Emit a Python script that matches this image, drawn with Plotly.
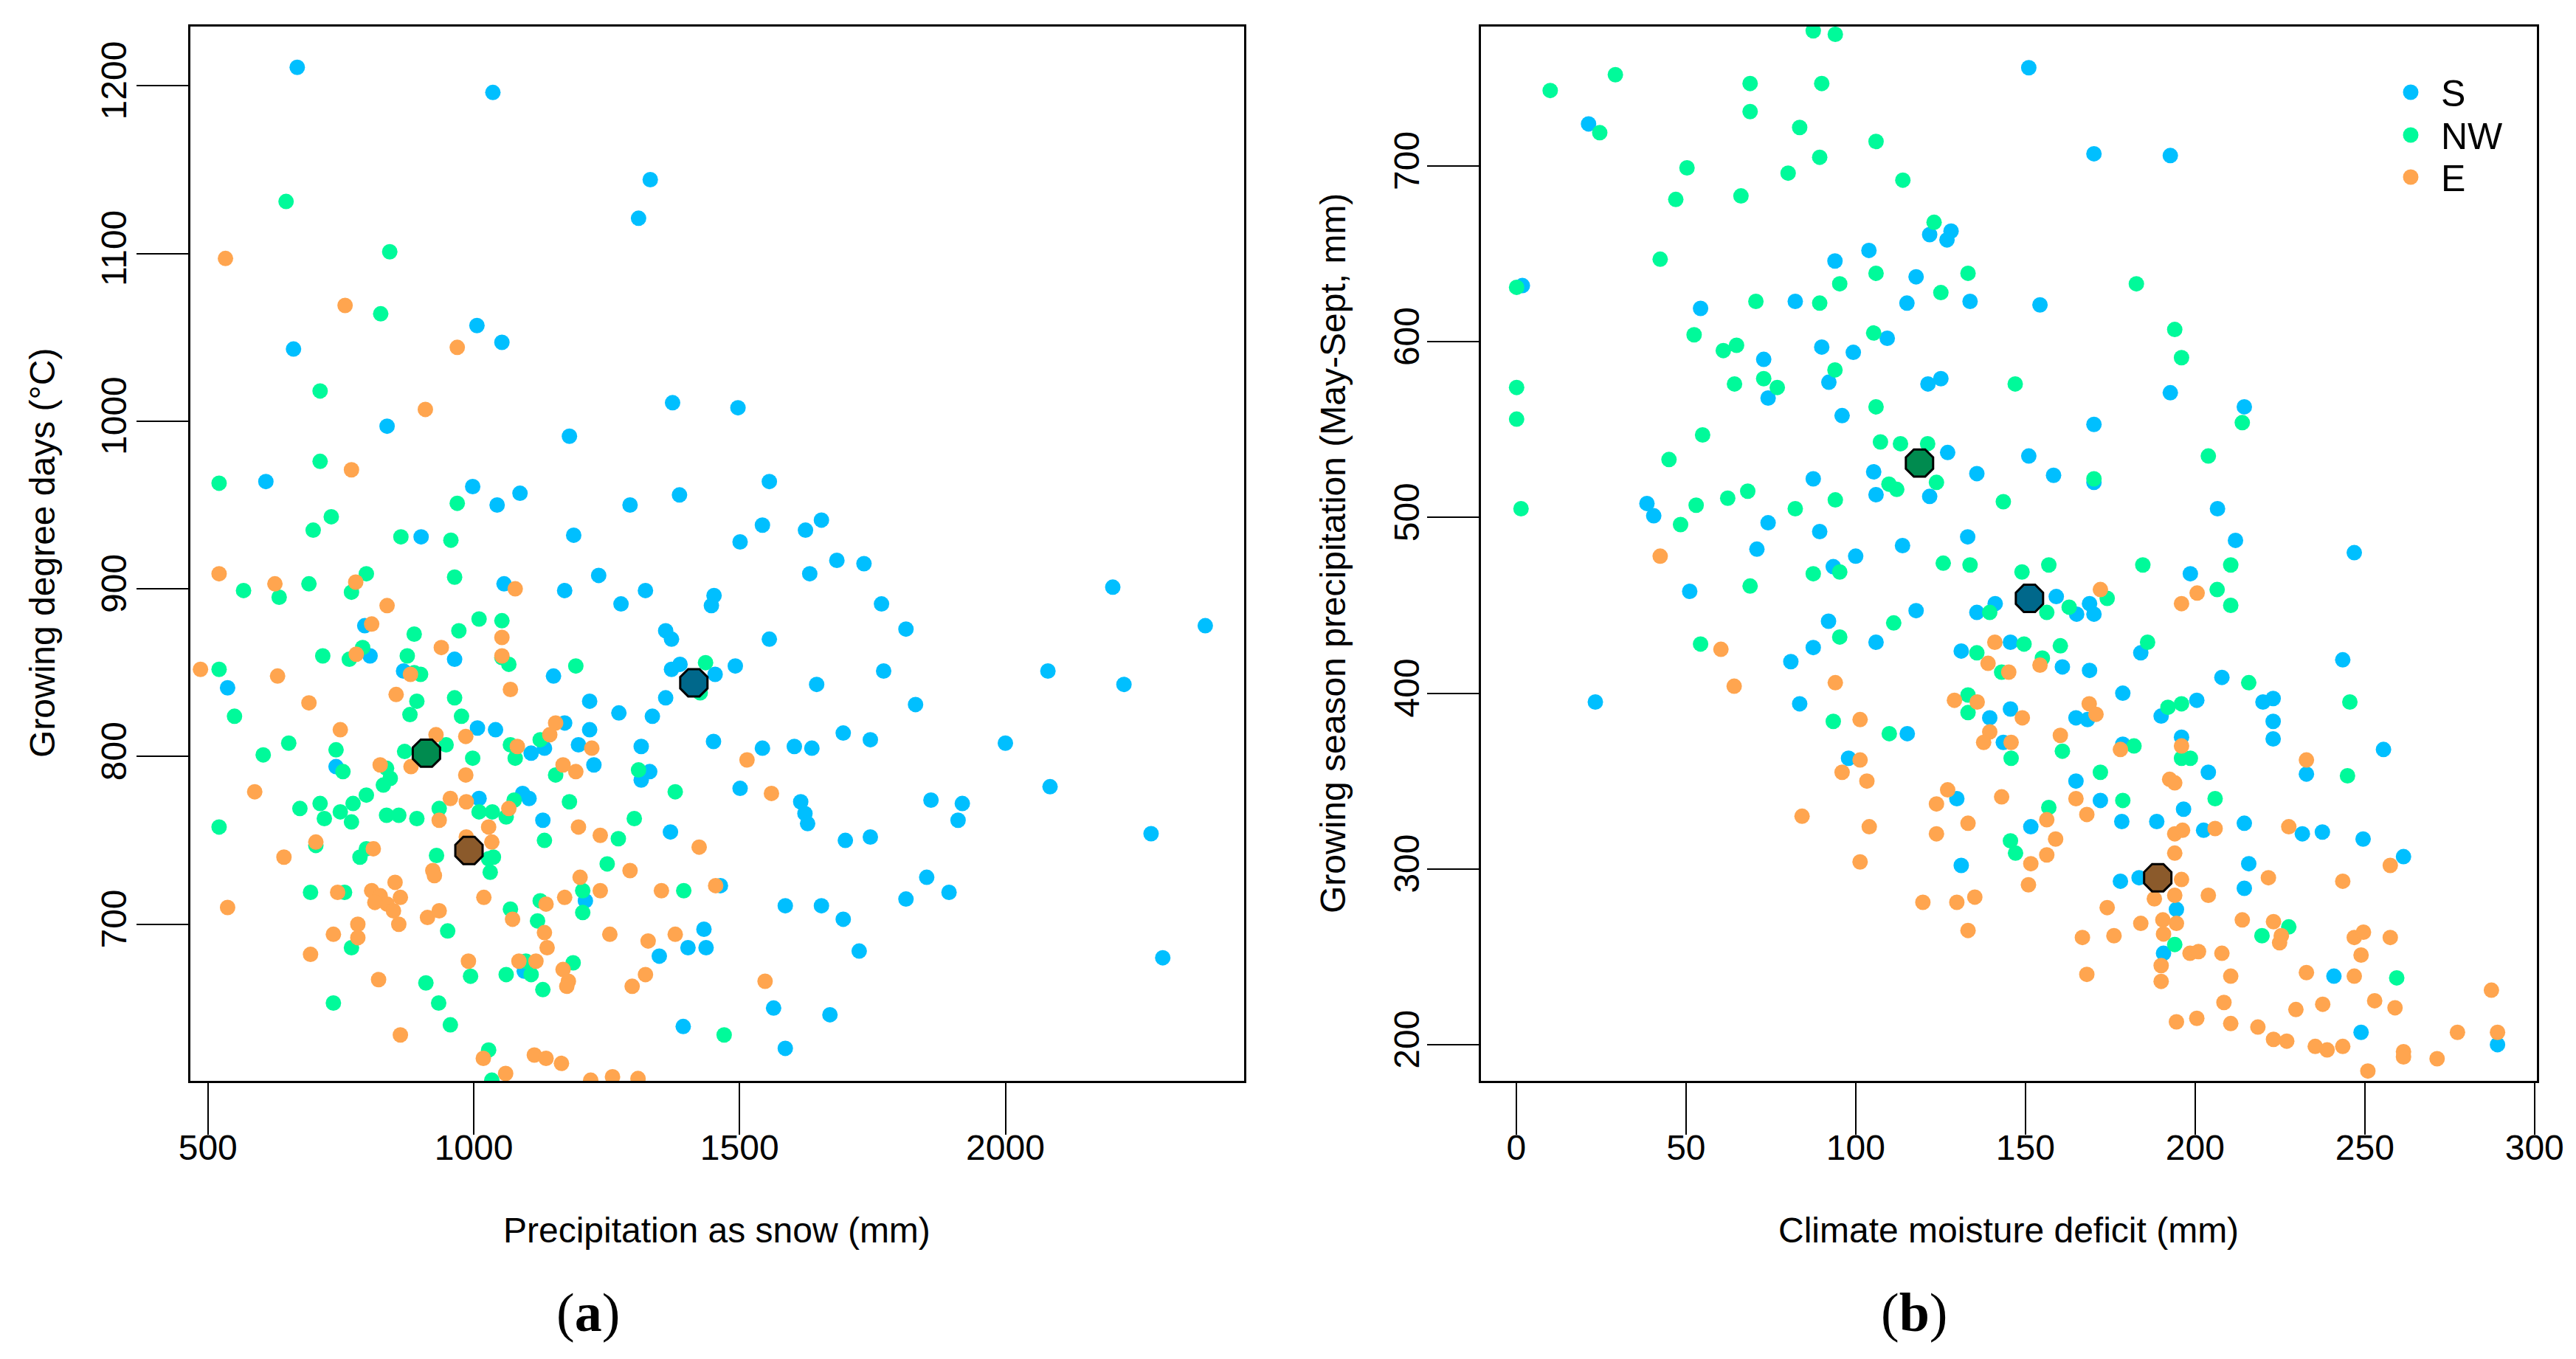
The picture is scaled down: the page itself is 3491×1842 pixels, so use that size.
import plotly.graph_objects as go

# ---- panel (a): precipitation as snow (mm) vs growing degree days ----
snow_s = [668, 1036, 1332, 1310, 661, 1006, 1053, 837, 1374, 1180, 609, 998, 1087, 1044, 1294, 1387,
          901, 1188, 1497, 1556, 1543, 1501, 1624, 1654, 1683, 1734, 1452, 1447, 1632, 2202, 1767, 1813,
          2376, 1556, 1492, 1454, 1771, 1645, 2080, 2223, 1831, 1451, 1543, 1603, 1636, 1695, 1746, 2000,
          1501, 1615, 1623, 1628, 1860, 1919, 1911, 2084, 1699, 1746, 2274, 1852, 1894, 1813, 1586, 1654,
          1695, 1725, 2296, 1564, 1670, 1586, 1464, 1235, 1057, 1171, 1277, 1323, 795, 1361, 1372, 805,
          964, 868, 537, 1150, 1372, 1388, 1218, 1361, 1273, 1336, 1007, 1041, 1171, 1218, 1108, 1133,
          1197, 1315, 741, 1226, 1331, 1315, 1010, 1092, 1104, 1130, 1370, 1210, 1433, 1403, 1437, 1349,
          1095, 1394]
gdd_s = [1211, 1196, 1144, 1121, 1043, 1057, 1047, 997, 1011, 991, 964, 961, 957, 950, 950, 956,
         931, 932, 1008, 964, 938, 928, 935, 941, 917, 915, 896, 890, 909, 901, 891, 876,
         878, 870, 854, 849, 851, 843, 851, 843, 831, 809, 805, 806, 805, 814, 810, 808,
         781, 773, 766, 760, 774, 772, 762, 782, 750, 752, 754, 728, 719, 715, 711, 711,
         703, 684, 680, 650, 646, 626, 723, 908, 903, 899, 891, 899, 878, 875, 870, 860,
         858, 851, 841, 848, 852, 855, 833, 835, 826, 824, 817, 816, 820, 816, 802, 805,
         807, 806, 794, 795, 791, 786, 775, 778, 775, 762, 755, 714, 697, 686, 686, 681,
         672, 639]

snow_nw = [647, 842, 825, 711, 711, 521, 969, 732, 698, 863, 957, 1471, 798, 964, 690, 770,
           567, 634, 888, 972, 1010, 1053, 791, 716, 766, 875, 1053, 1066, 888, 900, 521, 1192,
           1436, 1426, 893, 964, 880, 977, 550, 652, 604, 741, 948, 870, 1069, 1078, 1125, 998,
           754, 836, 843, 830, 1154, 1310, 1379, 798, 773, 711, 719, 673, 749, 770, 935, 1010,
           1035, 1061, 1076, 836, 859, 893, 1180, 1302, 521, 1272, 1133, 703, 798, 786, 1037, 1028,
           930, 1031, 1251, 1205, 1205, 1395, 693, 757, 1069, 1125, 1120, 770, 951, 1098, 1108, 1187,
           910, 994, 1061, 1130, 736, 934, 956, 1028, 1034]
gdd_nw = [1131, 1101, 1064, 1018, 976, 963, 951, 943, 935, 931, 929, 634, 909, 907, 903, 898,
          899, 895, 873, 875, 882, 881, 865, 860, 858, 860, 859, 855, 850, 849, 852, 854,
          856, 838, 833, 835, 825, 824, 824, 808, 801, 804, 807, 803, 807, 799, 810, 799,
          791, 793, 787, 783, 789, 792, 779, 777, 772, 772, 763, 769, 767, 761, 769, 767,
          767, 764, 774, 765, 765, 763, 773, 763, 758, 751, 750, 747, 745, 740, 740, 739,
          741, 731, 736, 720, 707, 720, 719, 719, 709, 714, 702, 686, 696, 678, 670, 677,
          665, 669, 670, 661, 653, 653, 640, 625, 607]

snow_e = [533, 758, 969, 909, 770, 1514, 1560, 1455, 1548, 521, 626, 778, 1078, 837, 808, 1053,
          939, 779, 1053, 881, 486, 631, 854, 1069, 690, 749, 1154, 929, 985, 1082, 1143, 1222,
          985, 824, 882, 1168, 1192, 588, 956, 986, 935, 1066, 1028, 1197, 1238, 1424, 703, 811,
          643, 1034, 986, 923, 926, 1294, 1200, 1238, 1353, 744, 808, 852, 824, 862, 837, 849,
          859, 814, 1019, 537, 913, 935, 1073, 1136, 1171, 782, 736, 782, 1133, 1138, 1256, 1328,
          1379, 693, 990, 1085, 1117, 1168, 1178, 1175, 821, 1323, 1298, 862, 1018, 1114, 1136, 1165,
          1060, 1220, 1261, 1309]
gdd_e = [1097, 1069, 1044, 1007, 971, 798, 778, 723, 666, 909, 903, 904, 900, 890, 879, 871,
         865, 861, 860, 849, 852, 848, 837, 840, 832, 816, 820, 813, 812, 806, 813, 805,
         789, 795, 794, 795, 791, 779, 775, 773, 762, 769, 758, 758, 753, 746, 749, 745,
         740, 749, 752, 732, 729, 732, 728, 720, 720, 719, 720, 725, 717, 716, 712, 708,
         700, 713, 716, 710, 704, 708, 703, 712, 716, 700, 694, 692, 695, 686, 694, 690,
         694, 682, 678, 678, 678, 673, 666, 663, 667, 670, 663, 634, 620, 622, 620, 617,
         611, 607, 609, 608]

# group means, panel (a)
snow_mean = [1414, 911, 991]
gdd_mean = [844, 802, 744]

# ---- panel (b): climate moisture deficit (mm) vs growing season precipitation ----
cmd_s = [21.3, 121.8, 128.1, 126.9, 103.9, 93.9, 117.8, 133.7, 115.1, 1.8, 54.3, 82.2, 109.3, 72.9, 90, 99.3,
         92.1, 74.2, 121.3, 125.1, 96, 127.1, 105.3, 87.5, 106, 121.8, 135.7, 38.5, 40.5, 74.2, 89.4, 133,
         113.8, 151, 170.2, 192.7, 154.3, 192.7, 214.5, 170.2, 151, 158.3, 170.2, 206.6, 211.9, 70.9, 100, 93.4,
         51.1, 141.1, 135.7, 117.8, 92, 106, 87.5, 80.9, 131.1, 23.3, 83.5, 139.5, 143.5, 115.2, 97.9, 129.8,
         131.1, 246.9, 198.6, 159.1, 165.1, 168.9, 170.2, 145.6, 160.9, 168.9, 184, 243.5, 207.9, 178.7, 200.5, 190,
         220, 223, 223, 223, 145.6, 164.9, 168.3, 178.7, 196, 255.5, 232.8, 203.9, 164.9, 172.1, 151.6, 178.4,
         188.7, 196.6, 202.5, 214.5, 231.6, 237.5, 249.5, 215.8, 261.4, 178, 183.5, 214.5, 194.5, 190.7, 240.9, 248.9,
         289.1]
gsp_s = [724, 661, 663, 658, 652, 646, 637, 623, 622, 632, 619, 623, 602, 590, 597, 594,
         577, 568, 576, 579, 558, 537, 526, 522, 513, 512, 525, 508, 501, 497, 492, 489,
         484, 756, 707, 706, 621, 571, 563, 553, 535, 524, 520, 505, 487, 482, 478, 472,
         458, 451, 446, 447, 441, 429, 426, 418, 424, 395, 394, 386, 372, 377, 363, 340,
         302, 480, 468, 455, 445, 451, 445, 429, 415, 413, 423, 419, 409, 400, 396, 387,
         395, 397, 384, 374, 391, 386, 385, 371, 375, 368, 354, 355, 350, 339, 324, 327,
         327, 334, 322, 326, 320, 321, 317, 303, 307, 293, 295, 289, 277, 252, 239, 207,
         200]

cmd_nw = [87.5, 94, 29.2, 10, 68.9, 90, 68.9, 24.6, 83.5, 106, 89.4, 50.3, 80.1, 113.9, 47, 66.2,
          123.1, 42.4, 106, 95.3, 133.1, 125.1, 0.1, 70.6, 89.4, 105.3, 52.4, 61, 64.9, 93.9, 0.1, 64.3,
          72.9, 76.9, 106, 0.1, 54.9, 45, 107.3, 113.2, 121.2, 109.8, 112.1, 123.8, 1.4, 53, 62.3, 68.2,
          82.2, 94, 48.4, 143.5, 182.7, 194, 196, 147, 213.9, 203.9, 170.2, 125.8, 133.7, 87.5, 95.3, 68.9,
          139.5, 111.2, 95.3, 54.3, 135.7, 143, 133.1, 133.1, 93.4, 109.9, 149, 156.9, 184.6, 210.5, 174.1, 156.3,
          162.9, 206.5, 210.5, 149.6, 160.3, 155, 186, 215.8, 245.6, 192, 196, 160.9, 145.8, 182, 196, 198.6,
          244.9, 172.1, 205.9, 178.7, 156.9, 145.6, 147.1, 227.6, 219.7, 194, 259.4]
gsp_nw = [777, 775, 752, 743, 747, 747, 731, 719, 722, 714, 705, 699, 696, 692, 681, 683,
          668, 647, 639, 633, 639, 628, 631, 623, 622, 605, 604, 595, 598, 584, 574, 576,
          579, 574, 563, 556, 547, 533, 543, 542, 542, 519, 516, 520, 505, 507, 511, 515,
          505, 510, 496, 509, 633, 607, 591, 576, 554, 535, 522, 474, 473, 468, 469, 461,
          446, 440, 432, 428, 423, 412, 399, 389, 384, 377, 469, 473, 473, 473, 454, 446,
          449, 459, 450, 428, 427, 420, 429, 406, 395, 392, 394, 367, 363, 370, 363, 363,
          353, 355, 340, 339, 335, 316, 309, 267, 262, 257, 238]

cmd_e = [42.4, 60.3, 141, 139, 64.2, 94, 129.1, 135.8, 101.3, 139.5, 137.7, 101.3, 96, 103.3, 127.1, 123.8,
         143, 84.2, 104, 133.1, 123.8, 101.3, 119.8, 129.8, 135.1, 133.1, 172.1, 200.6, 196, 154.3, 145.1, 149.1,
         168.8, 170.8, 160.3, 145.8, 178, 196, 232.8, 192.5, 194, 164.9, 156.3, 168.1, 194, 196.3, 205.9, 227.6,
         158.9, 156.3, 151.6, 150.9, 194, 257.5, 196, 194, 188, 221.6, 243.5, 203.9, 174.1, 184, 190.5, 194.5,
         190.7, 213.9, 223.1, 225.4, 224.9, 166.8, 176.1, 198.5, 201, 207.9, 246.9, 249.6, 257.5, 248.9, 190, 190,
         168.1, 210.5, 232.8, 246.9, 287.3, 208.5, 229.7, 237.6, 252.9, 258.9, 194.5, 200.5, 210.5, 218.5, 223.1, 227,
         235.4, 238.9, 243.5, 277.3, 289.1, 261.4, 261.4, 271.3, 250.9]
gsp_e = [478, 425, 429, 417, 404, 406, 396, 395, 385, 378, 372, 362, 355, 350, 345, 337,
         341, 330, 324, 326, 320, 304, 281, 281, 284, 265, 459, 457, 451, 416, 412, 386,
         394, 388, 376, 372, 368, 370, 362, 351, 349, 340, 328, 331, 320, 322, 323, 324,
         317, 308, 303, 291, 309, 302, 294, 285, 283, 295, 293, 285, 278, 269, 271, 269,
         263, 271, 270, 262, 258, 261, 262, 252, 253, 252, 261, 264, 261, 251, 245, 236,
         240, 239, 241, 239, 231, 224, 220, 223, 225, 221, 213, 215, 212, 210, 203, 202,
         199, 197, 199, 207, 207, 196, 193, 192, 185]

# group means, panel (b)
cmd_mean = [151.2, 118.8, 189]
gsp_mean = [454, 531, 295]

GROUPS = ["S", "NW", "E"]
COLORS = {"S": "#00BFFF", "NW": "#00FA9A", "E": "#FFA54F"}
MEAN_COLORS = ["#00688B", "#008B4F", "#8B5A2B"]

FONT = "Liberation Sans, Arial, sans-serif"

# the page body has an 8px margin: keep the figure inside the window so it never overflows
OFF = 8
W, H = 3491 - 2 * OFF, 1842 - 2 * OFF


def px_x(p):
    return (p - OFF) / W


def px_y(p):
    return 1 - (p - OFF) / H


fig = go.Figure()

panel_a = {"S": (snow_s, gdd_s), "NW": (snow_nw, gdd_nw), "E": (snow_e, gdd_e)}
panel_b = {"S": (cmd_s, gsp_s), "NW": (cmd_nw, gsp_nw), "E": (cmd_e, gsp_e)}

for axes, panel in [(("x", "y"), panel_a), (("x2", "y2"), panel_b)]:
    for g in GROUPS:
        xs, ys = panel[g]
        fig.add_trace(go.Scatter(
            x=xs, y=ys, mode="markers", name=g, showlegend=False,
            marker=dict(color=COLORS[g], size=21, line=dict(width=0)),
            xaxis=axes[0], yaxis=axes[1],
        ))

for axes, mx, my in [(("x", "y"), snow_mean, gdd_mean), (("x2", "y2"), cmd_mean, gsp_mean)]:
    fig.add_trace(go.Scatter(
        x=mx, y=my, mode="markers", showlegend=False,
        marker=dict(symbol="octagon", size=40, color=MEAN_COLORS, line=dict(color="black", width=3)),
        xaxis=axes[0], yaxis=axes[1],
    ))

axis_style = dict(
    showline=True, mirror=True, linecolor="black", linewidth=3,
    ticks="outside", ticklen=70, tickwidth=2, tickcolor="black",
    showgrid=False, zeroline=False, automargin=False,
    tickfont=dict(family=FONT, size=48, color="black"),
)

fig.update_layout(
    template="none",
    width=W, height=H,
    margin=dict(l=0, r=0, t=0, b=0, pad=0, autoexpand=False),
    paper_bgcolor="white", plot_bgcolor="white",
    showlegend=False,
    xaxis=dict(domain=[px_x(258), px_x(1686)], range=[467, 2449], ticklabelstandoff=-24,
               tickvals=[500, 1000, 1500, 2000], anchor="y", **axis_style),
    yaxis=dict(domain=[px_y(1465), px_y(36)], range=[606.6, 1235.3], ticklabelstandoff=-5,
               tickvals=[700, 800, 900, 1000, 1100, 1200], tickangle=-90, anchor="x", **axis_style),
    xaxis2=dict(domain=[px_x(2007), px_x(3438)], range=[-10.4, 300.7], ticklabelstandoff=-24,
                tickvals=[0, 50, 100, 150, 200, 250, 300], anchor="y2", **axis_style),
    yaxis2=dict(domain=[px_y(1465), px_y(36)], range=[179.4, 779.4], ticklabelstandoff=-8,
                tickvals=[200, 300, 400, 500, 600, 700], tickangle=-90, anchor="x2", **axis_style),
)

annotations = [
    dict(text="Precipitation as snow (mm)", x=px_x(971), y=px_y(1667)),
    dict(text="Climate moisture deficit (mm)", x=px_x(2722), y=px_y(1667)),
    dict(text="Growing degree days (°C)", x=px_x(57), y=px_y(750), textangle=-90),
    dict(text="Growing season precipitation (May-Sept, mm)", x=px_x(1806), y=px_y(750), textangle=-90),
]
for a in annotations:
    fig.add_annotation(xref="paper", yref="paper", showarrow=False,
                       xanchor="center", yanchor="middle",
                       font=dict(family=FONT, size=48, color="black"), **a)

for label, xc in [("a", 797), ("b", 2594)]:
    fig.add_annotation(xref="paper", yref="paper", showarrow=False,
                       x=px_x(xc), y=px_y(1779), xanchor="center", yanchor="middle",
                       text=f"(<b>{label}</b>)",
                       font=dict(family="Liberation Serif, Times New Roman, serif", size=74, color="black"))

# legend in the top-right corner of panel (b)
legend_rows = [125, 183, 240]
for g, row in zip(GROUPS, legend_rows):
    r = 10.5
    fig.add_shape(type="circle", xref="paper", yref="paper",
                  x0=px_x(3267 - r), x1=px_x(3267 + r), y0=px_y(row + r), y1=px_y(row - r),
                  fillcolor=COLORS[g], line=dict(width=0))
    fig.add_annotation(xref="paper", yref="paper", showarrow=False,
                       x=px_x(3306), y=px_y(row + 2), xanchor="left", yanchor="middle",
                       text=g, font=dict(family=FONT, size=50, color="black"))

fig.write_html("out.html")
